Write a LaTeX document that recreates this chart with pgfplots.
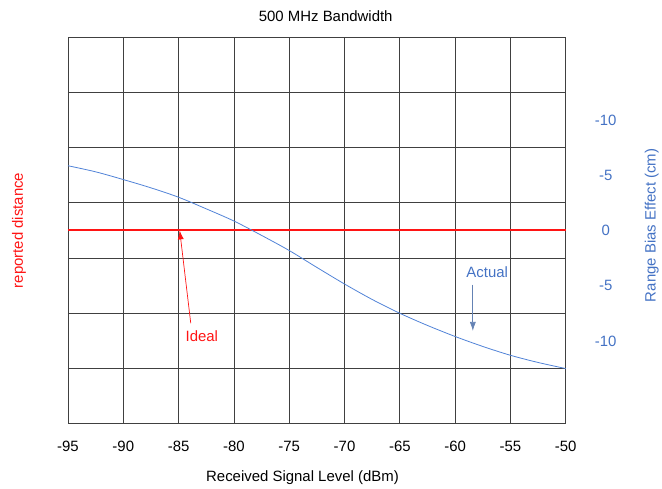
\documentclass[border=0pt]{standalone}
\usepackage{fontspec}
\setmainfont{Liberation Sans}
\usepackage{pgfplots}
\pgfplotsset{compat=1.18}
\usetikzlibrary{arrows.meta}
\definecolor{rbblue}{RGB}{68,114,196}
\definecolor{curveblue}{RGB}{80,130,215}
\definecolor{arrowblue}{RGB}{100,130,180}
\definecolor{idealred}{RGB}{255,20,20}
\begin{document}
\begin{tikzpicture}
\begin{axis}[
  scale only axis, width=498bp, height=387bp,
  xmin=-95, xmax=-50, ymin=-17.5, ymax=17.5,
  xtick={-95,-90,-85,-80,-75,-70,-65,-60,-55,-50},
  xticklabels={-95,-90,-85,-80,-75,-70,-65,-60,-55,-50},
  xmajorgrids,
  ytick={-10,-5,0,5,10},
  yticklabels={-10,-5,0,-5,-10},
  yticklabel pos=right,
  extra y ticks={-12.5,-7.5,-2.5,2.5,7.5,12.5},
  extra y tick labels={},
  extra y tick style={grid=major},
  major tick length=0pt,
  grid style={black!75, line width=0.8pt},
  axis line style={black!75, line width=0.8pt},
  tick label style={font=\fontsize{15}{18}\selectfont},
  xticklabel style={yshift=-14bp},
  yticklabel style={text=rbblue, anchor=center, xshift=40bp},
  clip=false,
]
\addplot[idealred, line width=2pt] coordinates {(-95,0) (-50,0)};
\addplot[curveblue, line width=0.8pt, smooth] coordinates {
(-95,5.85) (-92.5,5.3) (-90,4.6) (-87.5,3.85) (-85,3.0) (-82.5,1.95)
(-80,0.85) (-77.5,-0.45) (-75,-1.82) (-72.5,-3.35) (-70,-4.85) (-67.5,-6.25)
(-65,-7.5) (-62.5,-8.6) (-60,-9.6) (-57.5,-10.5) (-55,-11.3) (-52.5,-11.95) (-50,-12.5)
};
\node[text=idealred, font=\fontsize{15}{18}\selectfont] at (axis cs:-82.9,-9.6) {Ideal};
\draw[idealred, line width=0.7pt, -{Latex[length=9bp,width=6bp]}] (axis cs:-83.9,-8.4) -- (axis cs:-84.9,0);
\node[text=rbblue, font=\fontsize{15}{18}\selectfont] at (axis cs:-57.1,-3.75) {Actual};
\draw[arrowblue, line width=0.7pt, -{Latex[length=9bp,width=6bp]}] (axis cs:-58.4,-4.9) -- (axis cs:-58.4,-9.1);
\node[font=\fontsize{15}{18}\selectfont] at ([yshift=21bp]axis cs:-71.7,17.5) {500 MHz Bandwidth};
\node[font=\fontsize{15}{18}\selectfont] at ([yshift=-54bp]axis cs:-73.8,-17.5) {Received Signal Level (dBm)};
\node[text=idealred, rotate=90, font=\fontsize{15}{18}\selectfont] at ([xshift=-49bp]axis cs:-95,0) {reported distance};
\node[text=rbblue, rotate=90, font=\fontsize{15}{18}\selectfont] at ([xshift=86bp]axis cs:-50,0.45) {Range Bias Effect (cm)};
\end{axis}
\path ([shift={(-68bp,-64bp)}]current axis.south west) rectangle ([shift={(96bp,37bp)}]current axis.north east);
\end{tikzpicture}
\end{document}
